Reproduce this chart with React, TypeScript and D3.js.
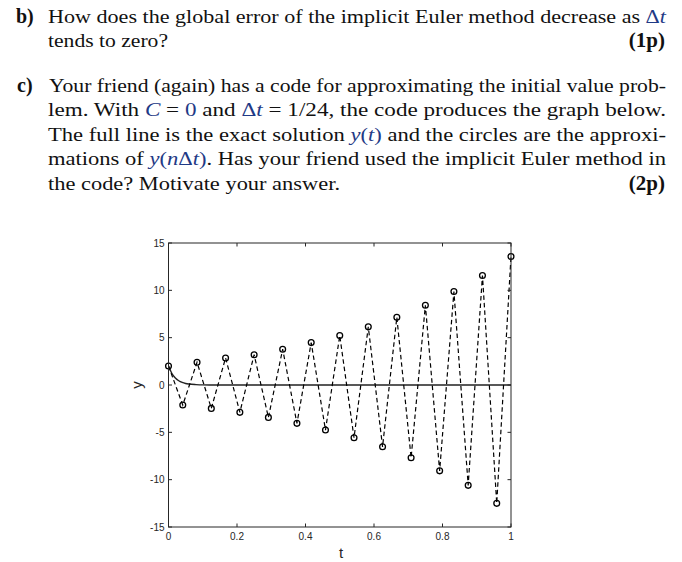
import React from 'react';
import * as d3 from 'd3';

// ---- data ----
const steps = [0, 1, 2, 3, 4, 5, 6, 7, 8, 9, 10, 11, 12, 13, 14, 15, 16, 17, 18, 19, 20, 21, 22, 23, 24];
const dt = 1 / 24;
const approxY = [
  2, -2.12, 2.4, -2.47, 2.86, -2.89, 3.2, -3.42, 3.78, -4.05, 4.48, -4.76, 5.22,
  -5.57, 6.14, -6.53, 7.16, -7.69, 8.43, -9.07, 9.87, -10.6, 11.57, -12.5, 13.58,
];
const exactT = [0, 0.01, 0.02, 0.03, 0.04, 0.05, 0.06, 0.08, 0.1, 0.15, 0.3, 0.6, 1];
const exactY = [2, 1.21, 0.74, 0.45, 0.27, 0.16, 0.1, 0.04, 0.01, 0, 0, 0, 0];
const xTicks = [0, 0.2, 0.4, 0.6, 0.8, 1];
const xTickLabels = ['0', '0.2', '0.4', '0.6', '0.8', '1'];
const yTicks = [-15, -10, -5, 0, 5, 10, 15];
const yTickLabels = ['-15', '-10', '-5', '0', '5', '10', '15'];

const W = 682;
const H = 562;
const plot = { left: 168.5, right: 511, top: 243, bottom: 527 };

const serif = '"Liberation Serif", "Times New Roman", serif';
const sans = '"Liberation Sans", Arial, sans-serif';
const mathColor = '#1f3a86';
const textColor = '#111';

export default function App() {
  const x = d3.scaleLinear().domain([0, 1]).range([plot.left, plot.right]);
  const y = d3.scaleLinear().domain([-15, 15]).range([plot.bottom, plot.top]);

  const approxPts = steps.map((n, i) => [n * dt, approxY[i]] as [number, number]);
  const exactPts = exactT.map((t, i) => [t, exactY[i]] as [number, number]);

  const line = d3
    .line<[number, number]>()
    .x((d) => x(d[0]))
    .y((d) => y(d[1]));
  const exactLine = d3
    .line<[number, number]>()
    .x((d) => x(d[0]))
    .y((d) => y(d[1]))
    .curve(d3.curveMonotoneX);

  const tickLen = 3.5;
  const axisColor = '#262626';
  const fs = 19.5;
  const adj = 'spacingAndGlyphs';

  const Dt = (key: string) => (
    <tspan key={key} fill={mathColor}>
      Δ<tspan fontStyle="italic">t</tspan>
    </tspan>
  );

  return (
    <svg
      width={W}
      height={H}
      style={{ position: 'absolute', left: 0, top: 0, background: '#fff' }}
      fontFamily={serif}
    >
      <rect x={0} y={0} width={W} height={H} fill="#fff" />
      {/* ---- question text ---- */}
      <g fontSize={fs} fill={textColor}>
        <text x={16} y={22.5} fontWeight="bold" fontSize={20}>b)</text>
        <text x={48} y={22.5} textLength={618} lengthAdjust={adj}>
          How does the global error of the implicit Euler method decrease as {Dt('a')}
        </text>
        <text x={48} y={46.5} textLength={120} lengthAdjust={adj}>tends to zero?</text>
        <text x={665} y={46.5} fontWeight="bold" textAnchor="end" fontSize={21}>(1p)</text>

        <text x={17} y={91.5} fontWeight="bold" fontSize={20}>c)</text>
        <text x={49} y={91.5} textLength={617} lengthAdjust={adj}>
          Your friend (again) has a code for approximating the initial value prob-
        </text>
        <text x={48} y={116} textLength={618} lengthAdjust={adj}>
          lem. With <tspan fill={mathColor} fontStyle="italic">C</tspan> = <tspan fill={mathColor}>0</tspan> and {Dt('b')} = 1/24, the code produces the graph below.
        </text>
        <text x={48} y={140.5} textLength={618} lengthAdjust={adj}>
          The full line is the exact solution <tspan fill={mathColor}><tspan fontStyle="italic">y</tspan>(<tspan fontStyle="italic">t</tspan>)</tspan> and the circles are the approxi-
        </text>
        <text x={48} y={165} textLength={618} lengthAdjust={adj}>
          mations of <tspan fill={mathColor}><tspan fontStyle="italic">y</tspan>(<tspan fontStyle="italic">n</tspan>Δ<tspan fontStyle="italic">t</tspan>)</tspan>. Has your friend used the implicit Euler method in
        </text>
        <text x={48} y={189.5} textLength={292} lengthAdjust={adj}>the code? Motivate your answer.</text>
        <text x={665} y={189.5} fontWeight="bold" textAnchor="end" fontSize={21}>(2p)</text>
      </g>

      {/* ---- chart ---- */}
      <g>
        {/* exact solution */}
        <path d={exactLine(exactPts) || ''} fill="none" stroke="#222" strokeWidth={1.4} />
        {/* approximation dashed */}
        <path
          d={line(approxPts) || ''}
          fill="none"
          stroke="#000"
          strokeWidth={1.2}
          strokeDasharray="4.5,3"
        />
        {approxPts.map((d, i) => (
          <circle key={i} cx={x(d[0])} cy={y(d[1])} r={2.9} fill="none" stroke="#000" strokeWidth={1.3} />
        ))}

        {/* box */}
        <rect
          x={plot.left}
          y={plot.top}
          width={plot.right - plot.left}
          height={plot.bottom - plot.top}
          fill="none"
          stroke={axisColor}
          strokeWidth={1}
        />
        {/* x ticks */}
        {xTicks.map((t, i) => (
          <g key={'xt' + i}>
            <line x1={x(t)} x2={x(t)} y1={plot.bottom} y2={plot.bottom - tickLen} stroke={axisColor} />
            <line x1={x(t)} x2={x(t)} y1={plot.top} y2={plot.top + tickLen} stroke={axisColor} />
            <text
              x={x(t)}
              y={plot.bottom + 13}
              textAnchor="middle"
              fontFamily={sans}
              fontSize={10}
              fill={axisColor}
            >
              {xTickLabels[i]}
            </text>
          </g>
        ))}
        {/* y ticks */}
        {yTicks.map((v, i) => (
          <g key={'yt' + i}>
            <line x1={plot.left} x2={plot.left + tickLen} y1={y(v)} y2={y(v)} stroke={axisColor} />
            <line x1={plot.right} x2={plot.right - tickLen} y1={y(v)} y2={y(v)} stroke={axisColor} />
            <text
              x={plot.left - 4}
              y={y(v)}
              dy="0.35em"
              textAnchor="end"
              fontFamily={sans}
              fontSize={10}
              fill={axisColor}
            >
              {yTickLabels[i]}
            </text>
          </g>
        ))}
        {/* axis labels */}
        <text x={341} y={558} textAnchor="middle" fontFamily={sans} fontSize={15} fill={axisColor}>
          t
        </text>
        <text
          transform={`translate(142,${y(0)}) rotate(-90)`}
          textAnchor="middle"
          fontFamily={sans}
          fontSize={15}
          fill={axisColor}
        >
          y
        </text>
      </g>
    </svg>
  );
}
